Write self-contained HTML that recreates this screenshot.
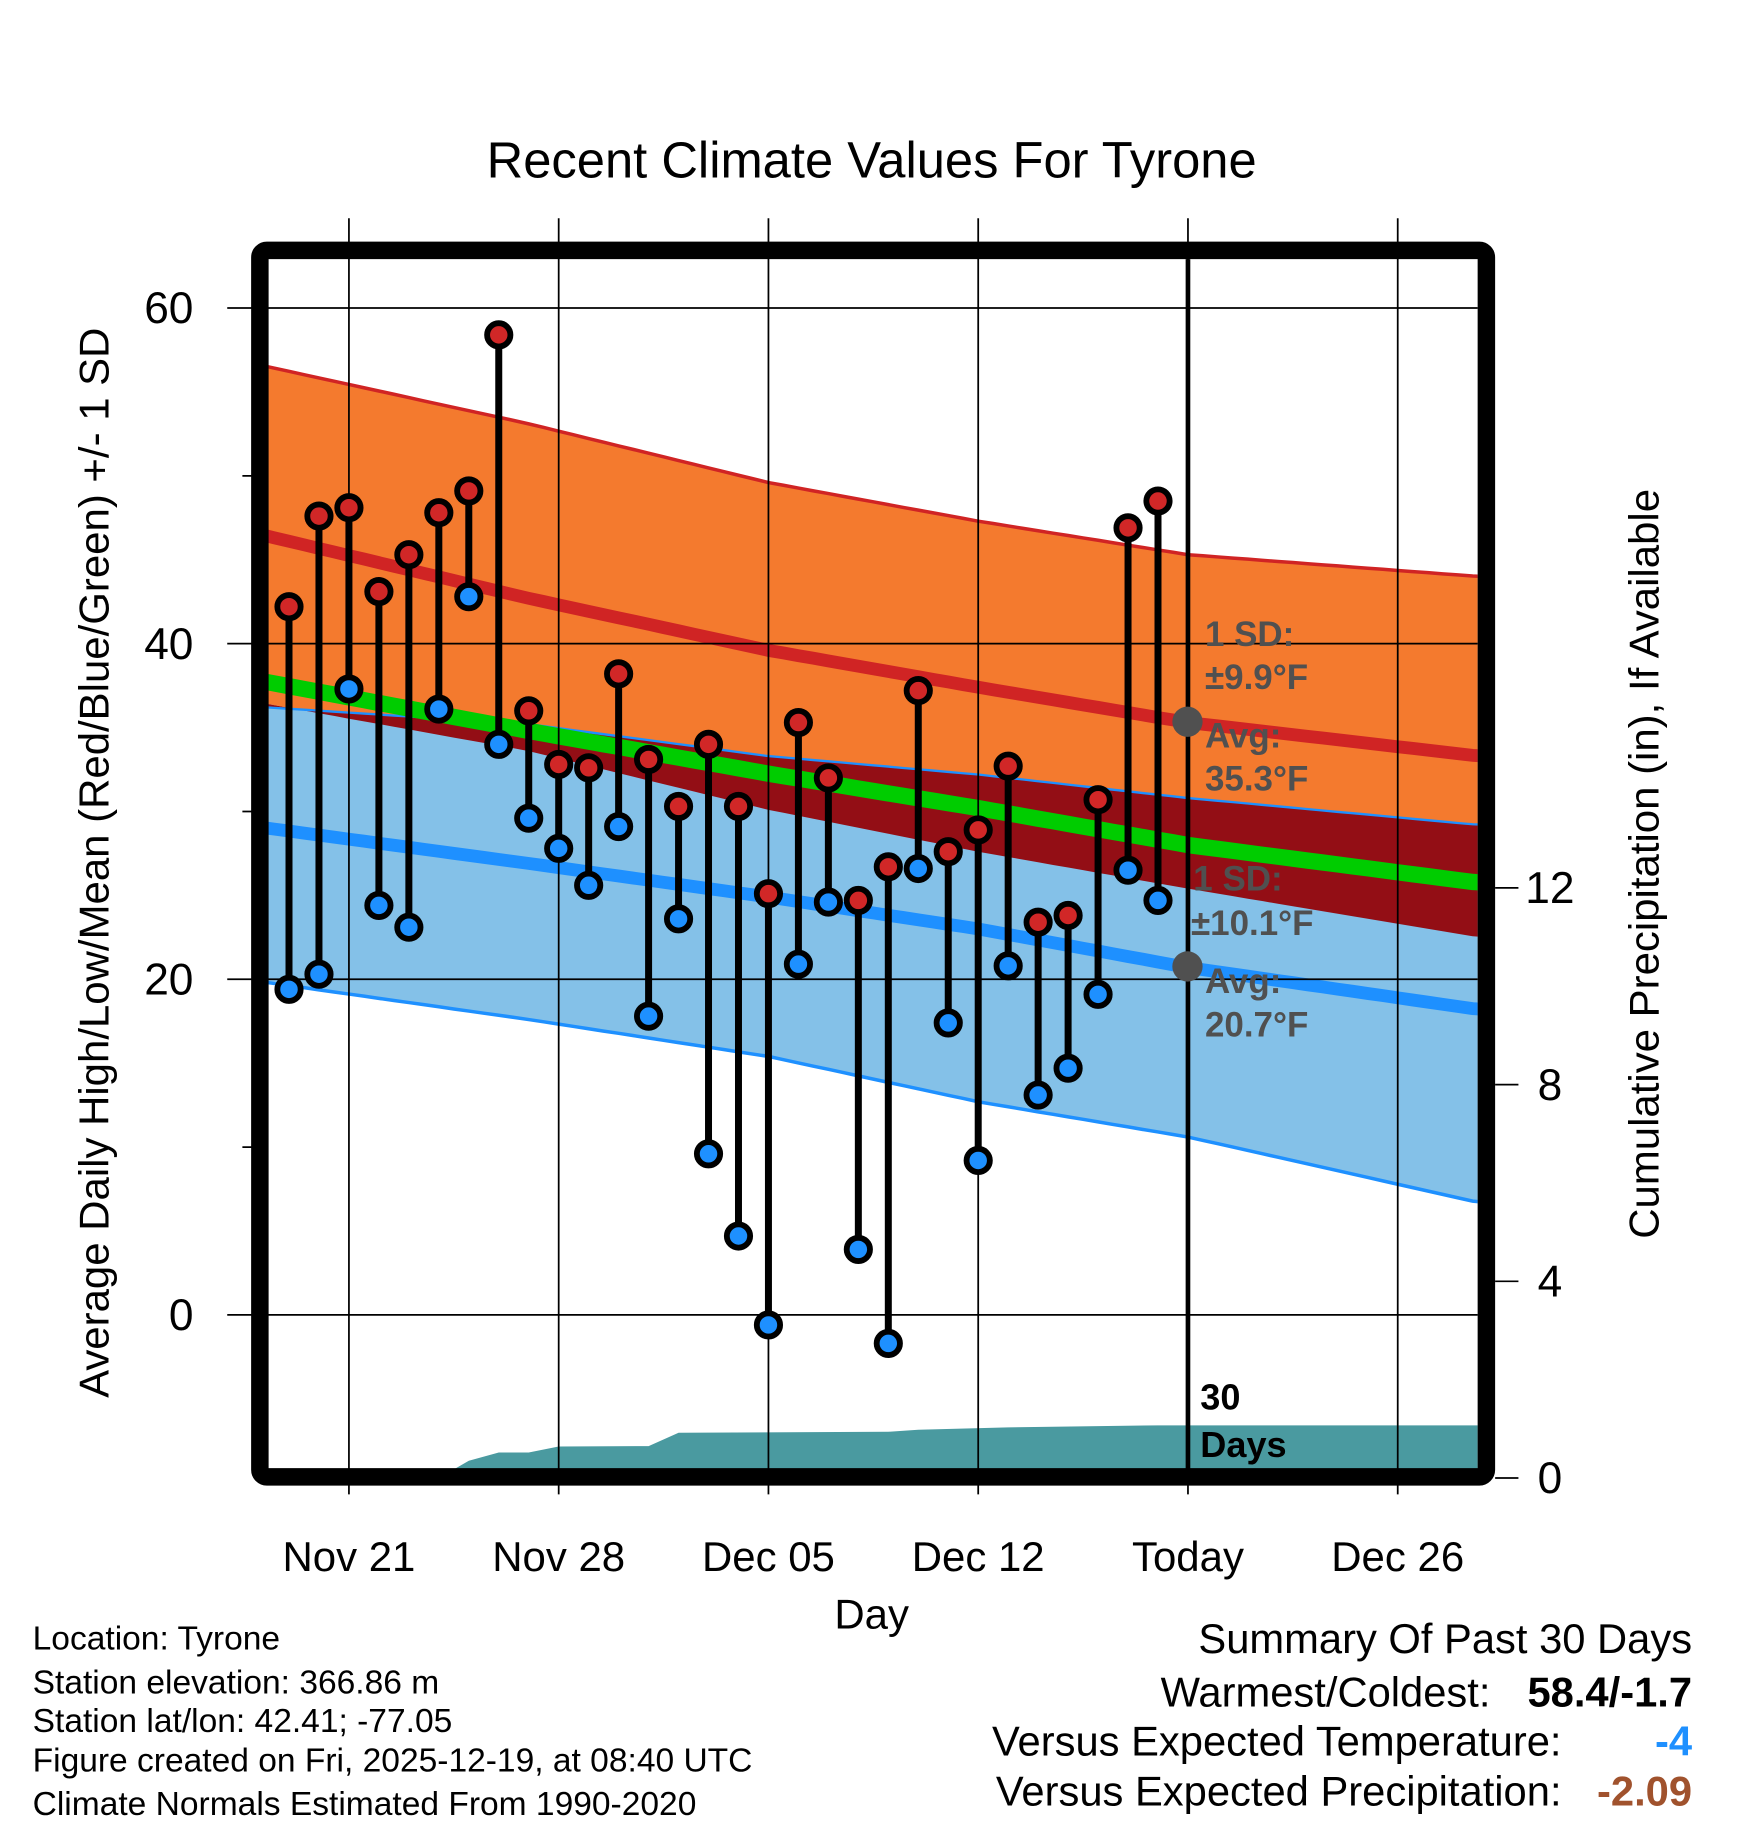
<!DOCTYPE html>
<html><head><meta charset="utf-8"><style>
html,body{margin:0;padding:0;background:#fff;}
svg{display:block;font-family:"Liberation Sans",sans-serif;}
</style></head><body>
<svg id="chart" width="1748" height="1828" viewBox="0 0 1500 1568" xmlns="http://www.w3.org/2000/svg">
<text x="748" y="152" font-size="43.5" text-anchor="middle">Recent Climate Values For Tyrone</text>
<defs><clipPath id="pc"><rect x="230" y="222" width="1038" height="1038"/></clipPath></defs>
<g id="bands" clip-path="url(#pc)"></g>
<g id="grid"></g>
<g id="marks"></g>
<g id="axes"></g>
<g font-weight="bold" font-size="30" fill="#505050">
<text x="1034" y="554">1 SD:</text>
<text x="1034" y="591">±9.9°F</text>
<circle cx="1019" cy="619" r="13" fill="#505050"/>
<text x="1034" y="641">Avg:</text>
<text x="1034" y="678">35.3°F</text>
<text x="1024" y="764">1 SD:</text>
<text x="1022" y="802">±10.1°F</text>
<circle cx="1019" cy="829" r="13" fill="#505050"/>
<text x="1034" y="852">Avg:</text>
<text x="1034" y="889">20.7°F</text>
</g>
<g font-size="28.8">
<text x="28" y="1415">Location: Tyrone</text>
<text x="28" y="1453">Station elevation: 366.86 m</text>
<text x="28" y="1486">Station lat/lon: 42.41; -77.05</text>
<text x="28" y="1520">Figure created on Fri, 2025-12-19, at 08:40 UTC</text>
<text x="28" y="1557">Climate Normals Estimated From 1990-2020</text>
</g>
<g font-size="35.8" text-anchor="end">
<text x="1452" y="1418">Summary Of Past 30 Days</text>
<text x="1279" y="1464">Warmest/Coldest:</text>
<text x="1452" y="1464" font-weight="bold">58.4/-1.7</text>
<text x="1340" y="1506">Versus Expected Temperature:</text>
<text x="1452" y="1506" font-weight="bold" fill="#1e90ff">-4</text>
<text x="1340" y="1549">Versus Expected Precipitation:</text>
<text x="1452" y="1549" font-weight="bold" fill="#a0522d">-2.09</text>
</g>
</svg>
<script>
const highs=[42.2,47.6,48.1,43.1,45.3,47.8,49.1,58.4,36.0,32.8,32.6,38.2,33.1,30.3,34.0,30.3,25.1,35.3,32.0,24.7,26.7,37.2,27.6,28.9,32.7,23.4,23.8,30.7,46.9,48.5];
const lows=[19.4,20.3,37.3,24.4,23.1,36.1,42.8,34.0,29.6,27.8,25.6,29.1,17.8,23.6,9.6,4.7,-0.6,20.9,24.6,3.9,-1.7,26.6,17.4,9.2,20.8,13.1,14.7,19.1,26.5,24.7];
const normDays=[-0.7,8,16,23,30,39.7];
const highUpper=[56.5,53.1,49.6,47.3,45.3,44.0];
const highMean=[46.4,42.7,39.6,37.4,35.3,33.3];
const highLower=[36.4,33.6,30.1,27.6,25.4,22.5];
const lowUpper=[36.2,35.2,33.3,32.2,30.8,29.2];
const lowMean=[29.0,26.9,24.9,23.0,20.7,18.2];
const lowLower=[19.8,17.6,15.4,12.7,10.6,6.7];
const precipDays=[0,5,6,7,8,9,12,13,20,21,24,29,39.7];
const precipCum=[0,0,0.35,0.52,0.52,0.64,0.65,0.92,0.94,0.98,1.03,1.07,1.07];
const dateLabels=["Nov 21","Nov 28","Dec 05","Dec 12","Today","Dec 26"];
const dateTickDays=[2,9,16,23,30,37];
const yTicks=[0,20,40,60];
const yMinor=[10,30,50];
const pTicks=[0,4,8,12];

const NS="http://www.w3.org/2000/svg";
const X=d=>248+d*25.714;
const Y=v=>1128-v*14.4;
const P=v=>1268-v*42.2;
function el(t,a,p){const e=document.createElementNS(NS,t);for(const k in a)e.setAttribute(k,a[k]);p.appendChild(e);return e;}
function interp(arr,d){for(let i=0;i<normDays.length-1;i++){if(d<=normDays[i+1]){const t=(d-normDays[i])/(normDays[i+1]-normDays[i]);return arr[i]+t*(arr[i+1]-arr[i]);}}return arr[arr.length-1];}
const samp=[];for(let d=-1;d<=40.5;d+=0.5)samp.push(d);
const line=arr=>samp.map(d=>X(d).toFixed(1)+","+Y(interp(arr,d)).toFixed(1));
const bands=document.getElementById('bands');
function area(a,b,fill,name){const pts=line(a).concat(line(b).reverse());const e=el('polygon',{points:pts.join(' '),fill:fill},bands);

}
function pl(arr,stroke,w,name){const e=el('polyline',{points:line(arr).join(' '),fill:'none',stroke:stroke,'stroke-width':w},bands);

}
area(highUpper,highLower,'#f47a2e','high-sd-band');
area(lowUpper,lowLower,'#84c1e8','low-sd-band');
{const ov=samp.map(d=>[X(d).toFixed(1),Y(Math.min(interp(lowUpper,d),interp(highMean,d))).toFixed(1)]);
const ov2=samp.map(d=>[X(d).toFixed(1),Y(interp(highLower,d)).toFixed(1)]);
const e=el('polygon',{points:ov.map(p=>p.join(',')).concat(ov2.reverse().map(p=>p.join(','))).join(' '),fill:'#930e15'},bands);

}
pl(highUpper,'#d02424',3,'high-upper-line');
pl(lowUpper,'#1e90ff',2,'low-upper-line');
pl(lowLower,'#1e90ff',3,'low-lower-line');
pl(highMean,'#d02424',11,'high-mean-line');
pl(lowMean,'#1e90ff',11,'low-mean-line');
const meanArr=highMean.map((h,i)=>(h+lowMean[i])/2);
pl(meanArr,'#00cc00',14,'mean-line');
{const pts=precipDays.map((d,i)=>X(d).toFixed(1)+","+P(precipCum[i]).toFixed(1));
pts.unshift(X(0)+","+P(0));
pts.push("1280,"+P(precipCum[precipCum.length-1]).toFixed(1),"1280,1270",X(-1)+",1270",X(-1)+","+P(0));
const e=el('polygon',{points:pts.join(' '),fill:'#4a9aa0'},bands);

}
const grid=document.getElementById('grid');
yTicks.forEach(v=>{const e=el('line',{x1:195,x2:1268,y1:Y(v),y2:Y(v),stroke:'#000','stroke-width':1.5},grid);


const t=el('text',{x:166,y:Y(v)+13,'font-size':38,'text-anchor':'end'},grid);t.textContent=v;

});
yMinor.forEach(v=>{const e=el('line',{x1:208,x2:230,y1:Y(v),y2:Y(v),stroke:'#000','stroke-width':1.5},grid);

});
dateTickDays.forEach((d,i)=>{const e=el('line',{x1:X(d),x2:X(d),y1:187,y2:1282,stroke:'#000','stroke-width':1.5},grid);


const t=el('text',{x:X(d),y:1348,'font-size':36,'text-anchor':'middle'},grid);t.textContent=dateLabels[i];

});
pTicks.forEach(v=>{const e=el('line',{x1:1283,x2:1303,y1:P(v),y2:P(v),stroke:'#000','stroke-width':1.5},grid);


const t=el('text',{x:1330,y:P(v)+13,'font-size':38,'text-anchor':'middle'},grid);t.textContent=v;

});
{const e=el('line',{x1:X(30),x2:X(30),y1:222,y2:1260,stroke:'#000','stroke-width':4},grid);


const t1=el('text',{x:1030,y:1209,'font-size':31,'font-weight':'bold'},grid);t1.textContent='30';


const t2=el('text',{x:1030,y:1250,'font-size':31,'font-weight':'bold'},grid);t2.textContent='Days';

}
const marks=document.getElementById('marks');
highs.forEach((h,i)=>{const x=X(i);
const s=el('line',{x1:x,x2:x,y1:Y(h),y2:Y(lows[i]),stroke:'#000','stroke-width':6},marks);


const c1=el('circle',{cx:x,cy:Y(h),r:10,fill:'#d12727',stroke:'#000','stroke-width':5},marks);


const c2=el('circle',{cx:x,cy:Y(lows[i]),r:10,fill:'#1e90ff',stroke:'#000','stroke-width':5},marks);

});
const ax=document.getElementById('axes');
{const f=el('rect',{x:223,y:214.5,width:1052.5,height:1052.5,rx:6,fill:'none',stroke:'#000','stroke-width':15},ax);


const t=el('text',{x:748,y:1397,'font-size':36,'text-anchor':'middle'},ax);t.textContent='Day';


const yl=el('text',{x:0,y:0,'font-size':36,'text-anchor':'middle',transform:'translate(93,740) rotate(-90)'},ax);yl.textContent='Average Daily High/Low/Mean (Red/Blue/Green) +/- 1 SD';


const yr=el('text',{x:0,y:0,'font-size':36,'text-anchor':'middle',transform:'translate(1423,741) rotate(-90)'},ax);yr.textContent='Cumulative Precipitation (in), If Available';

}
</script>
</body></html>
